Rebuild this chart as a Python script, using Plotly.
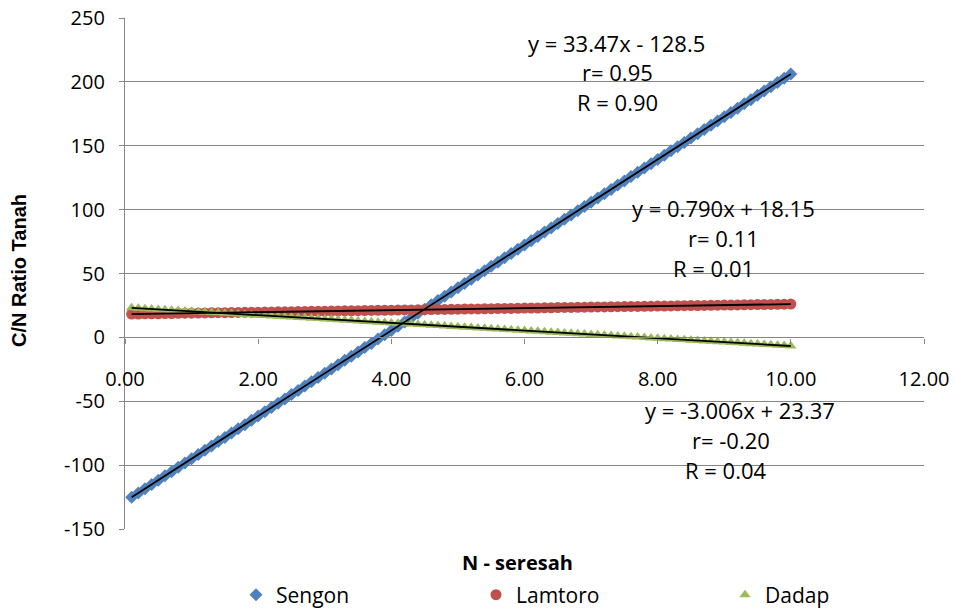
import plotly.graph_objects as go
import numpy as np

x_values = [0.1, 0.2, 0.3, 0.4, 0.5, 0.6, 0.7, 0.8, 0.9, 1.0,
            1.1, 1.2, 1.3, 1.4, 1.5, 1.6, 1.7, 1.8, 1.9, 2.0,
            2.1, 2.2, 2.3, 2.4, 2.5, 2.6, 2.7, 2.8, 2.9, 3.0,
            3.1, 3.2, 3.3, 3.4, 3.5, 3.6, 3.7, 3.8, 3.9, 4.0,
            4.1, 4.2, 4.3, 4.4, 4.5, 4.6, 4.7, 4.8, 4.9, 5.0,
            5.1, 5.2, 5.3, 5.4, 5.5, 5.6, 5.7, 5.8, 5.9, 6.0,
            6.1, 6.2, 6.3, 6.4, 6.5, 6.6, 6.7, 6.8, 6.9, 7.0,
            7.1, 7.2, 7.3, 7.4, 7.5, 7.6, 7.7, 7.8, 7.9, 8.0,
            8.1, 8.2, 8.3, 8.4, 8.5, 8.6, 8.7, 8.8, 8.9, 9.0,
            9.1, 9.2, 9.3, 9.4, 9.5, 9.6, 9.7, 9.8, 9.9, 10.0]

sengon = [-125.2, -121.8, -118.5, -115.1, -111.8, -108.4, -105.1, -101.7, -98.4, -95.0,
          -91.7, -88.3, -85.0, -81.6, -78.3, -74.9, -71.6, -68.3, -64.9, -61.6,
          -58.2, -54.9, -51.5, -48.2, -44.8, -41.5, -38.1, -34.8, -31.4, -28.1,
          -24.7, -21.4, -18.0, -14.7, -11.4, -8.0, -4.7, -1.3, 2.0, 5.4,
          8.7, 12.1, 15.4, 18.8, 22.1, 25.5, 28.8, 32.2, 35.5, 38.9,
          42.2, 45.5, 48.9, 52.2, 55.6, 58.9, 62.3, 65.6, 69.0, 72.3,
          75.7, 79.0, 82.4, 85.7, 89.1, 92.4, 95.7, 99.1, 102.4, 105.8,
          109.1, 112.5, 115.8, 119.2, 122.5, 125.9, 129.2, 132.6, 135.9, 139.3,
          142.6, 146.0, 149.3, 152.6, 156.0, 159.3, 162.7, 166.0, 169.4, 172.7,
          176.1, 179.4, 182.8, 186.1, 189.5, 192.8, 196.2, 199.5, 202.9, 206.2]

lamtoro = [18.2, 18.3, 18.4, 18.5, 18.5, 18.6, 18.7, 18.8, 18.9, 18.9,
           19.0, 19.1, 19.2, 19.3, 19.3, 19.4, 19.5, 19.6, 19.7, 19.7,
           19.8, 19.9, 20.0, 20.0, 20.1, 20.2, 20.3, 20.4, 20.4, 20.5,
           20.6, 20.7, 20.8, 20.8, 20.9, 21.0, 21.1, 21.2, 21.2, 21.3,
           21.4, 21.5, 21.5, 21.6, 21.7, 21.8, 21.9, 21.9, 22.0, 22.1,
           22.2, 22.3, 22.3, 22.4, 22.5, 22.6, 22.7, 22.7, 22.8, 22.9,
           23.0, 23.0, 23.1, 23.2, 23.3, 23.4, 23.4, 23.5, 23.6, 23.7,
           23.8, 23.8, 23.9, 24.0, 24.1, 24.2, 24.2, 24.3, 24.4, 24.5,
           24.5, 24.6, 24.7, 24.8, 24.9, 24.9, 25.0, 25.1, 25.2, 25.3,
           25.3, 25.4, 25.5, 25.6, 25.7, 25.7, 25.8, 25.9, 26.0, 26.1]

dadap = [23.1, 22.8, 22.5, 22.2, 21.9, 21.6, 21.3, 21.0, 20.7, 20.4,
         20.1, 19.8, 19.5, 19.2, 18.9, 18.6, 18.3, 18.0, 17.7, 17.4,
         17.1, 16.8, 16.5, 16.2, 15.9, 15.6, 15.3, 15.0, 14.7, 14.4,
         14.1, 13.8, 13.5, 13.2, 12.8, 12.5, 12.2, 11.9, 11.6, 11.3,
         11.0, 10.7, 10.4, 10.1, 9.8, 9.5, 9.2, 8.9, 8.6, 8.3,
         8.0, 7.7, 7.4, 7.1, 6.8, 6.5, 6.2, 5.9, 5.6, 5.3,
         5.0, 4.7, 4.4, 4.1, 3.8, 3.5, 3.2, 2.9, 2.6, 2.3,
         2.0, 1.7, 1.4, 1.1, 0.8, 0.5, 0.2, -0.1, -0.4, -0.7,
         -1.0, -1.3, -1.6, -1.9, -2.2, -2.5, -2.8, -3.1, -3.4, -3.7,
         -4.0, -4.3, -4.6, -4.9, -5.2, -5.5, -5.8, -6.1, -6.4, -6.7]

series_names = ["Sengon", "Lamtoro", "Dadap"]
equation_texts = [
    ["y = 33.47x - 128.5", "r= 0.95", "R = 0.90"],
    ["y = 0.790x + 18.15", "r= 0.11", "R = 0.01"],
    ["y = -3.006x + 23.37", "r= -0.20", "R = 0.04"],
]
x_tick_vals = [0, 2, 4, 6, 8, 10, 12]
x_tick_labels = ["0.00", "2.00", "4.00", "6.00", "8.00", "10.00", "12.00"]
y_tick_vals = [-150, -100, -50, 0, 50, 100, 150, 200, 250]
y_tick_labels = ["-150", "-100", "-50", "0", "50", "100", "150", "200", "250"]
x_title = "N - seresah"
y_title = "C/N Ratio Tanah"

FONT = "Open Sans, Calibri, sans-serif"
YFONT = "Liberation Sans, Arial, sans-serif"
colors = ["#4F81BD", "#C0504D", "#9BBB59"]
symbols = ["diamond", "circle", "triangle-up"]
sizes = [10, 11, 10]
all_series = [sengon, lamtoro, dadap]
legends = ["legend", "legend2", "legend3"]

fig = go.Figure()
for name, ys, c, s, sz, lg in zip(series_names, all_series, colors, symbols, sizes, legends):
    fig.add_trace(go.Scatter(
        x=x_values, y=ys, mode="markers", name=name,
        marker=dict(symbol=s, color=c, size=sz, line=dict(width=0)),
        legend=lg,
    ))

xs = np.array(x_values)
for ys in all_series:
    slope, intercept = np.polyfit(xs, np.array(ys), 1)
    xl = [xs.min(), xs.max()]
    fig.add_trace(go.Scatter(
        x=xl, y=[slope * v + intercept for v in xl], mode="lines",
        line=dict(color="black", width=1.8), showlegend=False, hoverinfo="skip",
    ))

# plot area geometry (page pixels; body margin removed below)
W, H = 955, 610
L, T = 125, 18
pw, ph = 799, 511
R = W - L - pw
B = H - T - ph

def px_x(p):
    return (p - L) / pw

def px_y(p):
    return (H - B - p) / ph

ann_pos = [
    [(616, 43), (617, 72), (617, 102)],
    [(723, 208), (723, 238), (713, 268)],
    [(740, 410), (731, 440), (726, 470)],
]
for texts, poss in zip(equation_texts, ann_pos):
    for t, (ax, ay) in zip(texts, poss):
        fig.add_annotation(x=px_x(ax), y=px_y(ay), xref="paper", yref="paper",
                           text=t, showarrow=False, font=dict(size=22, color="black", family=FONT),
                           xanchor="center", yanchor="middle")

fig.add_annotation(x=px_x(517), y=px_y(563), xref="paper", yref="paper", text="<b>" + x_title + "</b>",
                   showarrow=False, font=dict(size=20, color="black", family=FONT),
                   xanchor="center", yanchor="middle")
fig.add_annotation(x=px_x(19), y=px_y(270), xref="paper", yref="paper", text="<b>" + y_title + "</b>",
                   showarrow=False, textangle=-90, font=dict(size=20, color="black", family=YFONT),
                   xanchor="center", yanchor="middle")

ymin, ymax = -150, 250
zero_frac = (0 - ymin) / (ymax - ymin)

leg_common = dict(orientation="h", xanchor="left", yanchor="middle",
                  font=dict(size=21, family=FONT), bgcolor="rgba(0,0,0,0)")

fig.update_layout(
    width=W, height=H,
    margin=dict(l=L, r=R, t=T, b=B, autoexpand=False),
    paper_bgcolor="white", plot_bgcolor="white",
    font=dict(family=FONT, size=20, color="black"),
    xaxis=dict(range=[0, 12], tickvals=x_tick_vals, ticktext=x_tick_labels,
               showgrid=False, zeroline=False, showline=True, linecolor="#868686", linewidth=1.3,
               ticks="outside", ticklen=5, tickcolor="#868686", ticklabelstandoff=18,
               anchor="free", position=zero_frac, tickfont=dict(size=20)),
    yaxis=dict(range=[ymin, ymax], tickvals=y_tick_vals, ticktext=y_tick_labels,
               showgrid=True, gridcolor="#868686", gridwidth=1, zeroline=False,
               showline=True, linecolor="#868686", linewidth=1.3,
               ticks="outside", ticklen=5, tickcolor="#868686", ticklabelstandoff=10,
               tickfont=dict(size=20)),
    legend=dict(x=px_x(236), y=px_y(595), **leg_common),
    legend2=dict(x=px_x(476), y=px_y(595), **leg_common),
    legend3=dict(x=px_x(725), y=px_y(595), **leg_common),
)

fig.write_html("out.html",
               config={"displayModeBar": False},
               post_script="document.body.style.margin='0';document.body.style.overflow='hidden';")
